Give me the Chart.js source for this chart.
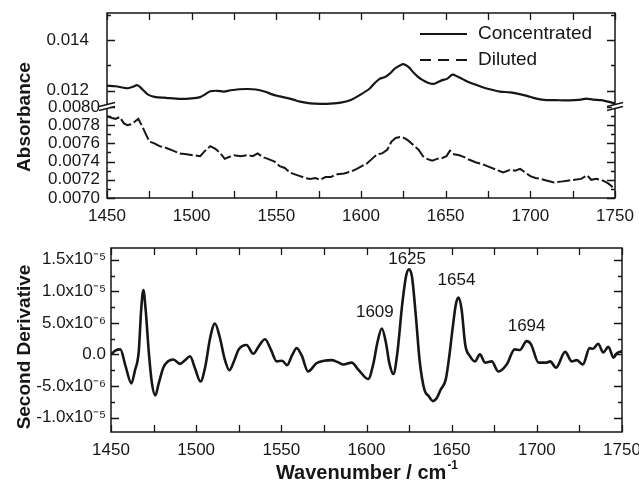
<!DOCTYPE html>
<html>
<head>
<meta charset="utf-8">
<script src="https://cdn.jsdelivr.net/npm/chart.js@4.4.1/dist/chart.umd.min.js"></script>
<style>
  html, body { margin: 0; padding: 0; background: #fff; }
  #wrap { position: relative; width: 639px; height: 483px; }
  #absChart { position: absolute; left: 0; top: 0; }
  #derivChart { position: absolute; left: 0; top: 230px; }
</style>
</head>
<body>
<div id="wrap">
  <canvas id="absChart" width="639" height="230"></canvas>
  <canvas id="derivChart" width="639" height="253"></canvas>
</div>
<script>
// Absorbance spectra, wavenumber in cm-1
const concWn = [1450, 1455, 1459, 1462, 1465, 1468, 1471, 1474, 1478, 1485, 1493, 1500, 1505, 1508, 1511,
  1515, 1519, 1523, 1528, 1533, 1538, 1543, 1548, 1552, 1556, 1560, 1564, 1570, 1576, 1582, 1588, 1594,
  1599, 1605, 1608, 1611, 1614, 1617, 1620, 1623, 1625, 1628, 1631, 1633.5, 1636, 1639.5, 1642.7, 1645,
  1648, 1651, 1654, 1657, 1660, 1663, 1667, 1671, 1676, 1682, 1688, 1693, 1698, 1703, 1708, 1715, 1720,
  1726, 1730, 1733, 1737, 1742, 1746, 1750];
const concAbs = [0.01220, 0.01218, 0.01213, 0.01210, 0.01215, 0.01222, 0.01205, 0.01186, 0.01176, 0.01172,
  0.01168, 0.01170, 0.01175, 0.01186, 0.01198, 0.01200, 0.01197, 0.01202, 0.01206, 0.01207, 0.01205,
  0.01197, 0.01185, 0.01178, 0.01172, 0.01165, 0.01157, 0.01150, 0.01148, 0.01149, 0.01153, 0.01164,
  0.01182, 0.01208, 0.01230, 0.01247, 0.01254, 0.01268, 0.01288, 0.01300, 0.01305, 0.01294, 0.01272,
  0.01256, 0.01244, 0.01232, 0.01227, 0.01233, 0.01242, 0.01248, 0.01264, 0.01256, 0.01246, 0.01236,
  0.01226, 0.01216, 0.01206, 0.01197, 0.01194, 0.01188, 0.01180, 0.01170, 0.01164, 0.01163, 0.01162,
  0.01163, 0.01165, 0.01169, 0.01165, 0.01163, 0.01157, 0.01150];

const dilWn = [1450, 1453, 1455, 1457.5, 1460, 1462, 1464, 1466.5, 1468.5, 1471, 1473, 1475, 1478, 1481,
  1485, 1489, 1493, 1497, 1501, 1505, 1508, 1511, 1514, 1517, 1519.5, 1522, 1525, 1529, 1533, 1536, 1539,
  1542, 1545, 1549, 1552, 1555, 1558, 1561, 1564, 1567, 1570, 1573, 1576, 1579, 1582, 1586, 1590, 1594,
  1597.5, 1600.5, 1603.5, 1606.5, 1609.5, 1612.5, 1615.5, 1618, 1620.5, 1623, 1625.5, 1628, 1631, 1634,
  1636.5, 1639, 1642, 1645, 1648, 1650.5, 1652.5, 1655, 1658, 1661, 1664, 1668, 1672, 1676, 1680, 1684,
  1688, 1691, 1694, 1697, 1700, 1703, 1706, 1710, 1714, 1718, 1722, 1726, 1730, 1733.5, 1736, 1739, 1743,
  1746, 1748, 1750];
const dilAbs = [0.00790, 0.00788, 0.00787, 0.00789, 0.00782, 0.00780, 0.00781, 0.00784, 0.00787, 0.00778,
  0.00770, 0.00762, 0.00760, 0.00757, 0.00755, 0.00752, 0.00749, 0.00748, 0.00747, 0.00746, 0.00752,
  0.00757, 0.00754, 0.00749, 0.00743, 0.00745, 0.00747, 0.00746, 0.00747, 0.00746, 0.00749, 0.00745,
  0.00743, 0.00740, 0.00735, 0.00733, 0.00728, 0.00726, 0.00724, 0.00722, 0.00721, 0.00722, 0.00720,
  0.00723, 0.00723, 0.00726, 0.00727, 0.00729, 0.00732, 0.00735, 0.00738, 0.00743, 0.00748, 0.00749,
  0.00753, 0.00762, 0.00766, 0.00767, 0.00766, 0.00763, 0.00758, 0.00753, 0.00746, 0.00743, 0.00741,
  0.00743, 0.00744, 0.00746, 0.00752, 0.00748, 0.00747, 0.00745, 0.00742, 0.00739, 0.00737, 0.00734,
  0.00731, 0.00728, 0.00731, 0.00730, 0.00732, 0.00728, 0.00724, 0.00722, 0.00721, 0.00719, 0.00717,
  0.00718, 0.00719, 0.00720, 0.00721, 0.00725, 0.00720, 0.00721, 0.00719, 0.00716, 0.00713, 0.00709];

// Second derivative of the concentrated spectrum, in units of 1e-6
const derivWn = [1450, 1452.5, 1455.5, 1458.5, 1462, 1464, 1466.3, 1467.7, 1469, 1470.3, 1472.3, 1474, 1476,
  1478, 1480.7, 1483.5, 1486.6, 1490.5, 1493.5, 1496.4, 1499.3, 1502.5, 1505.3, 1508.2, 1511, 1513.8,
  1516.8, 1519.5, 1522, 1525, 1529.6, 1533.5, 1537, 1540.4, 1543.8, 1547.3, 1550.5, 1553.4, 1556.2, 1559,
  1562, 1565.7, 1570.6, 1575, 1579.5, 1583, 1586.5, 1591.3, 1595.2, 1601, 1604, 1606.5, 1609, 1611.3,
  1613.5, 1615.8, 1618, 1621, 1623.3, 1625, 1626.7, 1629, 1631.2, 1634, 1636.5, 1639, 1641.5, 1643.5,
  1646.5, 1648.5, 1650.5, 1652.5, 1654, 1655.8, 1658, 1660.8, 1663.7, 1666.6, 1669.6, 1673.5, 1677.4,
  1682.3, 1687, 1690, 1694, 1696.6, 1701, 1705.8, 1707.8, 1711.3, 1716.6, 1720.5, 1723.5, 1727, 1731, 1733,
  1736, 1739, 1742, 1745, 1747, 1750];
const derivVal = [0.0, 0.6, 0.8, -1.8, -4.6, -2.6, 0.5, 7.0, 10.2, 7.2, 0.0, -4.5, -6.5, -4.6, -2.1, -1.1,
  -0.8, -1.5, -0.9, -0.3, -2.2, -4.3, -2.0, 2.6, 4.9, 2.8, -0.8, -2.5, -1.2, 0.8, 1.5, 0.1, 1.4, 2.4, 0.8,
  -1.1, -1.0, -1.7, -0.2, 1.0, -0.2, -2.7, -1.4, -1.0, -0.9, -1.2, -1.6, -1.3, -2.4, -3.9, -1.5, 2.0, 4.1,
  2.0, -1.5, -3.1, 0.0, 8.0, 12.5, 13.5, 12.3, 6.0, -1.0, -5.6, -6.6, -7.4, -6.8, -5.6, -4.0, -0.5, 4.0,
  8.0, 9.0, 7.2, 1.5, -0.3, -1.1, 0.0, -1.3, -1.1, -2.7, -1.6, 0.8, 0.7, 2.1, 1.6, -1.3, -1.3, -1.1, -2.1,
  0.4, -1.1, -0.9, -1.6, 1.0, 0.9, 1.7, 0.3, 1.2, -0.5, 0.2, 0.5];
const DERIV_UNIT = 1e-6;

// band positions marked on the derivative curve
const peakLabels = [1609, 1625, 1654, 1694];

const FONT = "'Liberation Sans', Arial, Helvetica, sans-serif";
const INK = '#161616';

const toPoints = (xs, ys, k = 1) => xs.map((x, i) => ({ x: x, y: ys[i] * k }));

const SUP = { '-': '\u207B', '0': '\u2070', '1': '\u00B9', '2': '\u00B2', '3': '\u00B3', '4': '\u2074',
  '5': '\u2075', '6': '\u2076', '7': '\u2077', '8': '\u2078', '9': '\u2079' };

function sciLabel(v) {
  if (Math.abs(v) < 1e-12) return '0.0';
  const e = Math.floor(Math.log10(Math.abs(v)) + 1e-9);
  const m = (v / Math.pow(10, e)).toFixed(1);
  return m + 'x10' + String(e).split('').map(c => SUP[c]).join('');
}

// fixed box sizes so both panels line up
function fixWidth(w) {
  return scale => { scale.width = w; scale.paddingTop = 0; scale.paddingBottom = 0; };
}
function fixHeight(h) {
  return scale => { scale.height = h; scale.paddingLeft = 0; scale.paddingRight = 0; };
}

// frame with inward ticks on all four sides
function drawFrame(chart, yAxes) {
  const { ctx, chartArea: a } = chart;
  ctx.save();
  ctx.strokeStyle = INK;
  ctx.lineWidth = 1.5;
  ctx.strokeRect(a.left, a.top, a.right - a.left, a.bottom - a.top);
  ctx.lineWidth = 1.3;
  ctx.beginPath();
  const xs = chart.scales.x;
  for (let v = xs.min; v <= xs.max + 1e-9; v += 25) {
    const px = Math.round(xs.getPixelForValue(v)) + 0.5;
    ctx.moveTo(px, a.bottom); ctx.lineTo(px, a.bottom - 7);
    ctx.moveTo(px, a.top); ctx.lineTo(px, a.top + 7);
  }
  yAxes.forEach(({ id, major, minor }) => {
    const s = chart.scales[id];
    const n0 = Math.ceil(s.min / minor - 1e-6);
    const n1 = Math.floor(s.max / minor + 1e-6);
    for (let n = n0; n <= n1; n++) {
      const v = n * minor;
      const r = v / major;
      const len = Math.abs(r - Math.round(r)) < 1e-6 ? 8 : 4;
      const py = Math.round(s.getPixelForValue(v)) + 0.5;
      ctx.moveTo(a.left, py); ctx.lineTo(a.left + len, py);
      ctx.moveTo(a.right, py); ctx.lineTo(a.right - len, py);
    }
  });
  ctx.stroke();
  ctx.restore();
}

function drawBreak(ctx, x, y) {
  ctx.save();
  ctx.fillStyle = '#fff';
  ctx.fillRect(x - 3, y - 2, 6, 4);
  ctx.strokeStyle = INK;
  ctx.lineWidth = 1.3;
  ctx.beginPath();
  ctx.moveTo(x - 8, y - 0.5); ctx.lineTo(x + 8, y - 4.5);
  ctx.moveTo(x - 8, y + 3.5); ctx.lineTo(x + 8, y - 0.5);
  ctx.stroke();
  ctx.restore();
}

function drawVerticalTitle(ctx, text, x, y) {
  ctx.save();
  ctx.translate(x, y);
  ctx.rotate(-Math.PI / 2);
  ctx.font = `bold 19px ${FONT}`;
  ctx.fillStyle = INK;
  ctx.textAlign = 'center';
  ctx.textBaseline = 'middle';
  ctx.fillText(text, 0, 0);
  ctx.restore();
}

const absDecor = {
  id: 'absDecor',
  afterDraw(chart) {
    const { ctx, chartArea: a } = chart;
    drawFrame(chart, [
      { id: 'yHigh', major: 0.002, minor: 0.001 },
      { id: 'yLow', major: 0.0002, minor: 0.0001 }
    ]);
    const yb = chart.scales.yLow.top;
    drawBreak(ctx, a.left, yb);
    drawBreak(ctx, a.right, yb);
    drawVerticalTitle(ctx, 'Absorbance', 25, 117);

    // legend
    ctx.save();
    ctx.strokeStyle = INK;
    ctx.fillStyle = INK;
    ctx.font = `19px ${FONT}`;
    ctx.textBaseline = 'middle';
    const lx0 = a.right - 195, lx1 = a.right - 148, tx = a.right - 137;
    ctx.lineWidth = 2.2;
    ctx.beginPath(); ctx.moveTo(lx0, a.top + 21); ctx.lineTo(lx1, a.top + 21); ctx.stroke();
    ctx.fillText('Concentrated', tx, a.top + 21);
    ctx.setLineDash([11, 7]);
    ctx.beginPath(); ctx.moveTo(lx0, a.top + 47); ctx.lineTo(lx1 + 4, a.top + 47); ctx.stroke();
    ctx.setLineDash([]);
    ctx.fillText('Diluted', tx, a.top + 47);
    ctx.restore();
  }
};

const derivDecor = {
  id: 'derivDecor',
  afterDraw(chart) {
    const { ctx, chartArea: a } = chart;
    drawFrame(chart, [{ id: 'y', major: 5e-6, minor: 2.5e-6 }]);
    drawVerticalTitle(ctx, 'Second Derivative', 25, 117);

    // x axis title with superscript unit
    ctx.save();
    ctx.fillStyle = INK;
    ctx.textBaseline = 'alphabetic';
    const main = 'Wavenumber / cm';
    ctx.font = `bold 20px ${FONT}`;
    const w1 = ctx.measureText(main).width;
    ctx.font = `bold 12px ${FONT}`;
    const w2 = ctx.measureText('-1').width;
    const x0 = (a.left + a.right) / 2 - (w1 + w2) / 2;
    ctx.font = `bold 20px ${FONT}`;
    ctx.fillText(main, x0, 249);
    ctx.font = `bold 12px ${FONT}`;
    ctx.fillText('-1', x0 + w1 + 1, 239);
    ctx.restore();

    // band labels above their peaks
    const nudge = { 1609: [-7, -16], 1625: [-2, -10], 1654: [-2, -17], 1694: [0, -15] };
    ctx.save();
    ctx.fillStyle = INK;
    ctx.font = `17px ${FONT}`;
    ctx.textAlign = 'center';
    ctx.textBaseline = 'middle';
    peakLabels.forEach(p => {
      const i = derivWn.indexOf(p);
      const px = chart.scales.x.getPixelForValue(p);
      const py = chart.scales.y.getPixelForValue(derivVal[i] * DERIV_UNIT);
      const [dx, dy] = nudge[p] || [0, -15];
      ctx.fillText(String(p), px + dx, py + dy);
    });
    ctx.restore();
  }
};

Chart.defaults.font.family = FONT;
Chart.defaults.color = INK;

const noGrid = { display: false, drawTicks: false };

const xAxis = (height, pad) => ({
  type: 'linear',
  min: 1450,
  max: 1750,
  grid: noGrid,
  border: { display: false },
  ticks: {
    stepSize: 50,
    autoSkip: false,
    maxRotation: 0,
    padding: pad,
    font: { size: 17 },
    callback: v => String(v)
  },
  afterFit: fixHeight(height)
});

new Chart(document.getElementById('absChart'), {
  type: 'line',
  data: {
    datasets: [
      {
        label: 'Concentrated',
        data: toPoints(concWn, concAbs),
        yAxisID: 'yHigh',
        borderColor: INK,
        borderWidth: 2.2,
        pointRadius: 0,
        tension: 0.3,
        fill: false
      },
      {
        label: 'Diluted',
        data: toPoints(dilWn, dilAbs),
        yAxisID: 'yLow',
        borderColor: INK,
        borderWidth: 2,
        borderDash: [13, 3],
        pointRadius: 0,
        tension: 0,
        fill: false
      }
    ]
  },
  options: {
    responsive: false,
    animation: false,
    layout: { padding: { top: 13, right: 24, left: 0, bottom: 0 } },
    plugins: { legend: { display: false }, tooltip: { enabled: false } },
    scales: {
      x: xAxis(32, 8),
      // the stack is laid out bottom-up, so the lower range comes first
      yLow: {
        type: 'linear',
        position: 'left',
        stack: 'absorbance',
        stackWeight: 91,
        min: 0.0070,
        max: 0.0080,
        grid: noGrid,
        border: { display: false },
        ticks: {
          stepSize: 0.0002,
          includeBounds: false,
          autoSkip: false,
          padding: 7,
          font: { size: 17 },
          callback: v => v.toFixed(4)
        },
        afterFit: fixWidth(107)
      },
      yHigh: {
        type: 'linear',
        position: 'left',
        stack: 'absorbance',
        stackWeight: 94,
        min: 0.01136,
        max: 0.01507,
        grid: noGrid,
        border: { display: false },
        ticks: {
          stepSize: 0.002,
          includeBounds: false,
          autoSkip: false,
          padding: 18,
          font: { size: 17 },
          callback: v => v.toFixed(3)
        },
        afterFit: fixWidth(107)
      }
    }
  },
  plugins: [absDecor]
});

new Chart(document.getElementById('derivChart'), {
  type: 'line',
  data: {
    datasets: [{
      label: 'Second Derivative',
      data: toPoints(derivWn, derivVal, DERIV_UNIT),
      borderColor: INK,
      borderWidth: 2.6,
      pointRadius: 0,
      cubicInterpolationMode: 'monotone',
      fill: false
    }]
  },
  options: {
    responsive: false,
    animation: false,
    layout: { padding: { top: 18, right: 17, left: 0, bottom: 0 } },
    plugins: { legend: { display: false }, tooltip: { enabled: false } },
    scales: {
      x: xAxis(51, 8),
      y: {
        type: 'linear',
        min: -1.229e-5,
        max: 1.686e-5,
        grid: noGrid,
        border: { display: false },
        ticks: {
          stepSize: 5e-6,
          includeBounds: false,
          autoSkip: false,
          padding: 5,
          font: { size: 17 },
          callback: v => sciLabel(v)
        },
        afterFit: fixWidth(111)
      }
    }
  },
  plugins: [derivDecor]
});
</script>
</body>
</html>
